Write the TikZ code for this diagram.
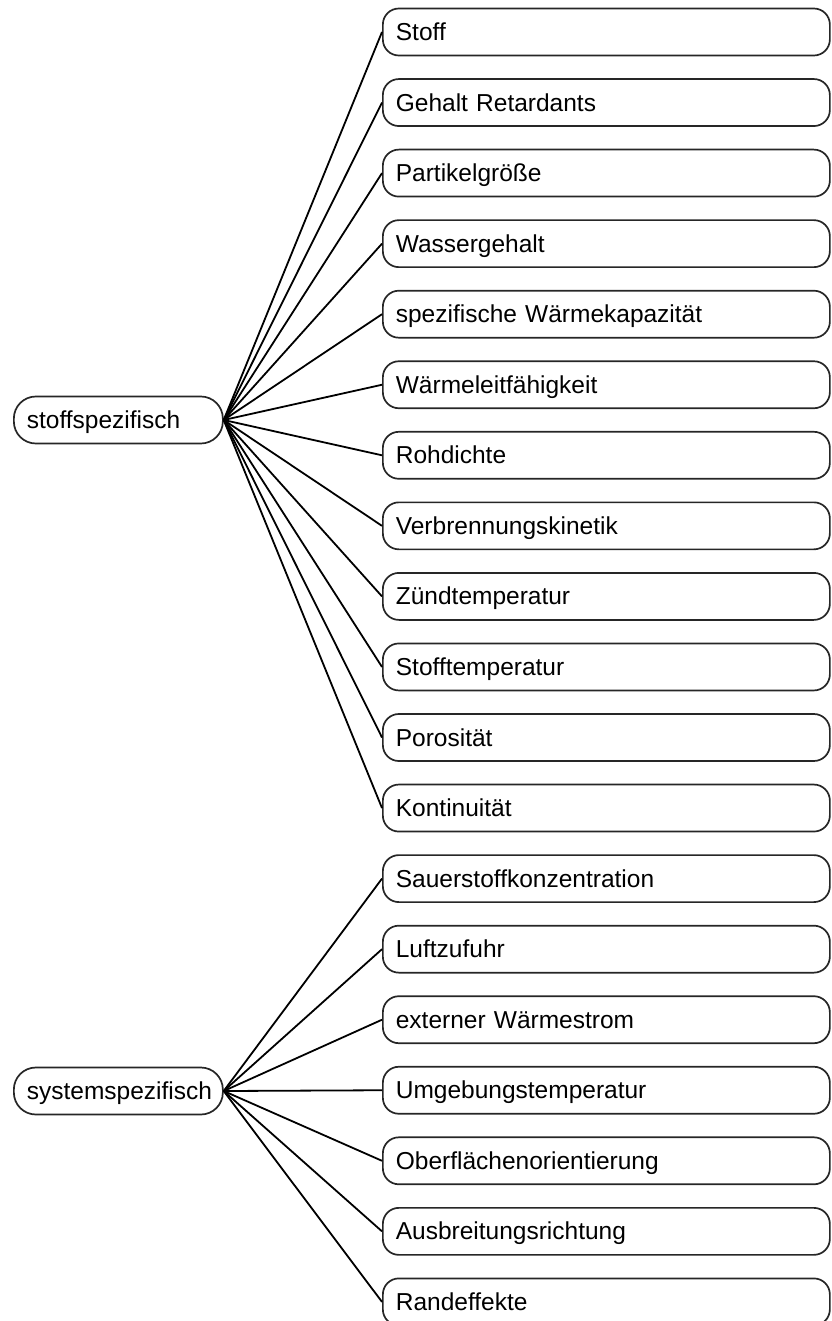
\documentclass[tikz,border=0pt]{standalone}
\usepackage{fontspec}
\setmainfont{Liberation Sans}
\begin{document}
\begin{tikzpicture}[x=1pt,y=-1pt,
  box/.style={draw=black!85, line width=1.7pt, fill=white, minimum height=47pt,
    font=\fontsize{24.5}{29}\selectfont, text height=17pt, text depth=0pt,
    align=left, anchor=west},
  leaf/.style={box, rounded corners=16pt, inner xsep=13pt, text width=421pt},
  root/.style={box, rounded corners=22pt, inner xsep=13pt, text width=183pt},
  link/.style={line width=1.8pt, black}]
\useasboundingbox (0,0) rectangle (831,1321);
\clip (0,0) rectangle (831,1321);

% material-specific factors
\foreach \t [count=\i from 0] in {Stoff, Gehalt Retardants, Partikelgröße,
    Wassergehalt, spezifische Wärmekapazität, Wärmeleitfähigkeit, Rohdichte,
    Verbrennungskinetik, Zündtemperatur, Stofftemperatur, Porosität, Kontinuität}
  \node[leaf] (m\i) at (382, {32+70.55*\i}) {\t};

% system-specific factors
\foreach \t [count=\i from 0] in {Sauerstoffkonzentration, Luftzufuhr,
    externer Wärmestrom, Umgebungstemperatur, Oberflächenorientierung,
    Ausbreitungsrichtung, Randeffekte}
  \node[leaf] (y\i) at (382, {32+70.55*(\i+12)}) {\t};

\node[root] (stoff) at (13, 420) {stoffspezifisch};
\node[root] (system) at (13, 1091) {systemspezifisch};

\foreach \i in {0,...,11}
  \draw[link] (stoff.east) -- (m\i.west);
\foreach \i in {0,...,6}
  \draw[link] (system.east) -- (y\i.west);
\end{tikzpicture}
\end{document}
